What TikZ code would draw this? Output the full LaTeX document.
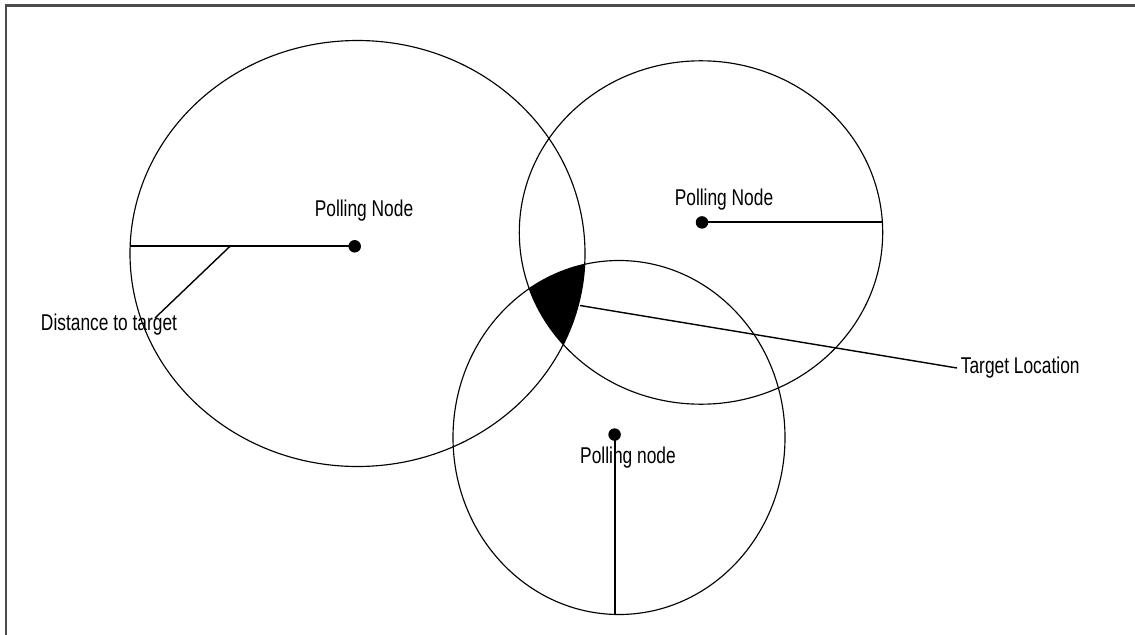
\documentclass[tikz,border=0pt]{standalone}
\usepackage{fontspec}
\setmainfont[FakeStretch=0.76]{Liberation Sans}
\usetikzlibrary{positioning}
\tikzset{
  ring/.style={draw, line width=0.65pt},
  dot/.style={circle, fill=black, inner sep=0pt, minimum size=0.25cm},
  spoke/.style={line width=1.1pt},
  leader/.style={line width=0.8pt},
  lbl/.style={font=\fontsize{13}{15}\selectfont, inner sep=2pt}
}
\begin{document}
\begin{tikzpicture}[x=0.02cm,y=-0.02cm]
  \clip (0,0) rectangle (1135,635);
  \draw[line width=1.2pt, draw=black!70] (6,5.5) rectangle (1160,660);
  % centres of the three coverage areas
  \coordinate (c1) at (357.5,253.5);
  \coordinate (c2) at (701,232.5);
  \coordinate (c3) at (619,437.5);
  % common area of all three
  \begin{scope}
    \clip (c2) ellipse [x radius=181.7, y radius=171.7];
    \clip (c3) ellipse [x radius=166, y radius=177];
    \fill (c1) ellipse [x radius=227.5, y radius=213];
  \end{scope}
  \draw[ring] (c1) ellipse [x radius=227.5, y radius=213];
  \draw[ring] (c2) ellipse [x radius=181.7, y radius=171.7];
  \draw[ring] (c3) ellipse [x radius=166, y radius=177];
  % polling nodes
  \node[dot] (p1) at (354.7,246.3) {};
  \node[dot] (p2) at (702,222.4) {};
  \node[dot] (p3) at (614.6,434.6) {};
  \coordinate (e1) at (130.2,246.3);
  \coordinate (e2) at (882.6,222.4);
  \coordinate (e3) at (614.6,614.5);
  \draw[spoke] (p1.center) -- (e1);
  \draw[spoke] (p2.center) -- (e2);
  \draw[spoke] (p3.center) -- (e3);
  \node[lbl] (n1) at (364,211) {Polling Node};
  \node[lbl] (n2) at (724,200) {Polling Node};
  \node[lbl] (n3) at (628,458) {Polling node};
  % callouts
  \coordinate (d1) at (230,246.3);
  \coordinate (d2) at (155,318);
  \node[lbl] (dist) at (109,325) {Distance to target};
  \draw[leader] (d1) -- (d2);
  \coordinate (tgt) at (580,305.5);
  \node[lbl, anchor=west] (tl) at (957,368) {Target Location};
  \draw[leader] (tgt) -- (tl.west);
\end{tikzpicture}
\end{document}
